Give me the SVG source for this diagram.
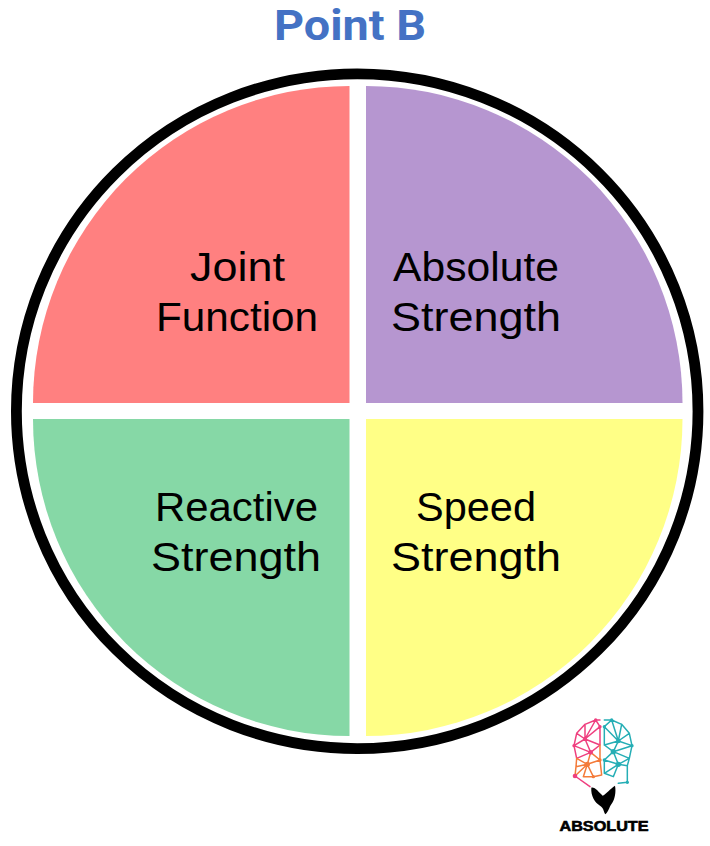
<svg xmlns="http://www.w3.org/2000/svg" width="710" height="846" viewBox="0 0 710 846">
<style>
.l{font-family:"Liberation Sans","DejaVu Sans",sans-serif;font-size:41px;fill:#000;text-anchor:start}
.p{fill:none;stroke-width:4.5;stroke-linejoin:round;stroke-linecap:round}
</style>
<rect width="710" height="846" fill="#fff"/>
<text id="title" x="274" y="39.500" font-family="Roboto,'Liberation Sans',sans-serif" font-size="42" font-weight="700" fill="#4472c4" textLength="152" lengthAdjust="spacingAndGlyphs">Point B</text>
<ellipse id="ring" cx="357.200" cy="411.200" rx="340.800" ry="337.400" fill="#fff" stroke="#000" stroke-width="10.800"/>
<g id="joint-function">
<path d="M349.500 403H33A316.500 317 0 0 1 349.500 86Z" fill="#ff8080"/>
<text class="l" x="190" y="281" textLength="95" lengthAdjust="spacingAndGlyphs">Joint</text>
<text class="l" x="156" y="331" textLength="162" lengthAdjust="spacingAndGlyphs">Function</text>
</g>
<g id="absolute-strength">
<path d="M366 403H682.500A316.500 317 0 0 0 366 86Z" fill="#b696d0"/>
<text class="l" x="393" y="281" textLength="166" lengthAdjust="spacingAndGlyphs">Absolute</text>
<text class="l" x="391" y="331" textLength="170" lengthAdjust="spacingAndGlyphs">Strength</text>
</g>
<g id="reactive-strength">
<path d="M349.500 419H33A316.500 317 0 0 0 349.500 736Z" fill="#86d8a6"/>
<text class="l" x="155" y="521" textLength="163" lengthAdjust="spacingAndGlyphs">Reactive</text>
<text class="l" x="151" y="571" textLength="170" lengthAdjust="spacingAndGlyphs">Strength</text>
</g>
<g id="speed-strength">
<path d="M366 419H682.500A316.500 317 0 0 1 366 736Z" fill="#ffff86"/>
<text class="l" x="416" y="521" textLength="120" lengthAdjust="spacingAndGlyphs">Speed</text>
<text class="l" x="391" y="571" textLength="170" lengthAdjust="spacingAndGlyphs">Strength</text>
</g>
<g id="logo">
<g transform="translate(550 705) scale(.3333)">
<path class="p" stroke="#ef3f7f" d="M150 45L137 45L105 58L80 85L72 122L80 160M137 45L105 102L80 85M105 58L105 102L72 122M137 45L150 65L105 102L122 142L72 122M150 65L150 120L122 142L105 102M150 120L105 102M122 142L80 160"/>
<path class="p" stroke="#f47b3a" d="M80 160L112 178L122 142L150 165L112 178L130 215L155 210L150 165M80 160L78 185L112 178L75 213M78 185L75 213M112 178L100 215L130 215M150 120L150 165"/>
<path class="p" stroke="#ef3f7f" d="M75 213L120 245"/>
<circle cx="75" cy="213" r="7" fill="#ef3f7f"/>
<g fill="#ef3f7f"><circle cx="105" cy="102" r="6"/><circle cx="72" cy="122" r="5"/><circle cx="122" cy="142" r="7"/><circle cx="137" cy="45" r="5"/><circle cx="150" cy="65" r="5"/></g>
<g fill="#f47b3a"><circle cx="112" cy="178" r="8"/><circle cx="150" cy="165" r="5"/><circle cx="130" cy="215" r="5"/></g>
<path class="p" stroke="#25aeb5" d="M163 45L185 45L215 58L238 85L246 122L238 160L232 182L232 232L205 235M185 45L205 108L238 85M215 58L205 108L246 122M163 65L185 45M163 65L205 108L190 140L246 122M163 65L163 120L190 140L163 165L205 178L190 140L238 160L205 178L232 182M163 120L205 108M163 165L163 205L190 215L205 178M163 205L205 178"/>
<g fill="#25aeb5"><circle cx="205" cy="108" r="7"/><circle cx="246" cy="122" r="5"/><circle cx="190" cy="140" r="8"/><circle cx="205" cy="178" r="8"/><circle cx="163" cy="65" r="5"/><circle cx="232" cy="232" r="5"/><circle cx="163" cy="165" r="5"/><circle cx="185" cy="45" r="5"/></g>
<path fill="#000" d="M124 248C136 246 146 262 158 272C170 266 180 252 195 242C199 262 194 284 184 298C177 308 176 320 166 328C160 318 162 310 150 302C134 292 122 272 124 248Z"/>
</g>
<text x="604" y="831" font-family="'Liberation Sans',sans-serif" font-size="14" font-weight="700" fill="#000" text-anchor="middle" textLength="89" lengthAdjust="spacingAndGlyphs" stroke="#000" stroke-width=".6">ABSOLUTE</text>
</g>
</svg>
